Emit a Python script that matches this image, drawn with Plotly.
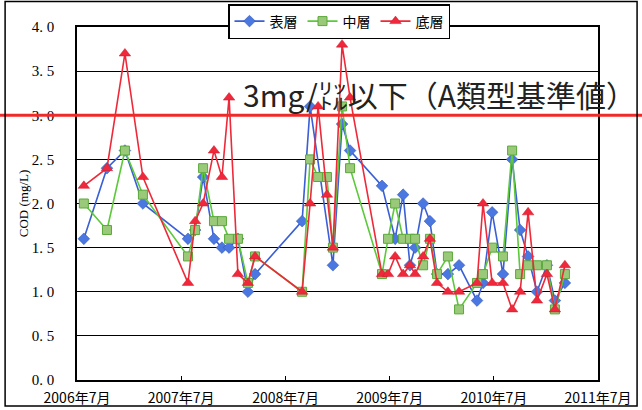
import plotly.graph_objects as go

dates = ["2006-07-25", "2006-10-14", "2006-12-16", "2007-02-17", "2007-07-25", "2007-08-19",
         "2007-09-16", "2007-10-24", "2007-11-21", "2007-12-16", "2008-01-16", "2008-02-20",
         "2008-03-16", "2008-08-28", "2008-09-25", "2008-10-23", "2008-11-23", "2008-12-14",
         "2009-01-15", "2009-02-12", "2009-06-04", "2009-06-25", "2009-07-20", "2009-08-17",
         "2009-09-10", "2009-09-28", "2009-10-26", "2009-11-19", "2009-12-14", "2010-01-21",
         "2010-03-01", "2010-05-03", "2010-05-24", "2010-06-25", "2010-08-02", "2010-09-03",
         "2010-10-01", "2010-10-29", "2010-11-29", "2011-01-03", "2011-01-31", "2011-03-07"]

surface = [1.6, 2.4, 2.6, 2.0, 1.6, 1.7, 2.3, 1.6, 1.5, 1.5, 1.6, 1.0,
           1.2, 1.8, 3.1, None, None, 1.3, 2.9, 2.6, 2.2, None, 1.6, 2.1,
           1.3, 1.5, 2.0, 1.8, 1.2, 1.2, 1.3, 0.9, 1.1, 1.9, 1.2, 2.5,
           1.7, 1.4, 1.0, 1.3, 0.9, 1.1]
middle = [2.0, 1.7, 2.6, 2.1, 1.4, 1.7, 2.4, 1.8, 1.8, 1.6, 1.6, 1.1,
          1.4, 1.0, 2.5, 2.3, 2.3, 1.5, 3.1, 2.4, 1.2, 1.6, 2.0, 1.6,
          1.6, 1.6, 1.3, 1.6, 1.2, 1.4, 0.8, 1.1, 1.2, 1.5, 1.4, 2.6,
          1.2, 1.3, 1.3, 1.3, 0.8, 1.2]
bottom = [2.2, 2.4, 3.7, 2.3, 1.1, 1.8, 2.0, 2.6, 2.3, 3.2, 1.2, 1.1,
          1.4, 1.0, 2.0, 3.1, 2.1, 1.5, 3.8, 3.2, 1.2, 1.2, 1.4, 1.2,
          1.3, 1.2, 1.4, 1.6, 1.1, 1.0, 1.0, 1.1, 2.0, 1.1, 1.1, 0.8,
          1.0, 1.9, 0.9, 1.2, 0.8, 1.3]

names = ["表層", "中層", "底層"]
y_ticks = [0, 0.5, 1.0, 1.5, 2.0, 2.5, 3.0, 3.5, 4.0]
y_labels = ["0. 0", "0. 5", "1. 0", "1. 5", "2. 0", "2. 5", "3. 0", "3. 5", "4. 0"]
x_ticks = ["2006-07-01", "2007-07-01", "2008-07-01", "2009-07-01", "2010-07-01", "2011-07-01"]
x_labels = ["2006年7月", "2007年7月", "2008年7月", "2009年7月", "2010年7月", "2011年7月"]
standard = 3.0
standard_text = "3mg/㍑以下（A類型基準値）"

fig = go.Figure()
fig.add_trace(go.Scatter(x=dates, y=surface, name=names[0], mode="lines+markers",
                         connectgaps=True,
                         line=dict(color="#3a5fd6", width=1.6),
                         marker=dict(symbol="diamond", size=9, color="#4a78e0",
                                     line=dict(color="#2a4cb0", width=0.5))))
fig.add_trace(go.Scatter(x=dates, y=middle, name=names[1], mode="lines+markers",
                         connectgaps=True,
                         line=dict(color="#5cc83a", width=1.6),
                         marker=dict(symbol="square", size=9, color="#9bc97a",
                                     line=dict(color="#5aa83a", width=1))))
fig.add_trace(go.Scatter(x=dates, y=bottom, name=names[2], mode="lines+markers",
                         connectgaps=True,
                         line=dict(color="#ee2a3a", width=1.6),
                         marker=dict(symbol="triangle-up", size=10, color="#f0283c",
                                     line=dict(color="#d01828", width=0.5))))

# standard line across the full width
fig.add_shape(type="line", xref="paper", yref="y", x0=-0.16, x1=1.1, y0=standard, y1=standard,
              line=dict(color="#ee2a2a", width=3), layer="above")
# outer frame
fig.add_shape(type="rect", xref="paper", yref="paper", x0=-0.138, x1=1.075, y0=-0.074, y1=1.072,
              line=dict(color="black", width=1.5))

fig.add_annotation(text=standard_text, xref="paper", yref="paper",
                   x=(241 - 77) / 521, y=(380 - 94) / 353, xanchor="left", yanchor="middle",
                   showarrow=False,
                   font=dict(family="Noto Sans CJK JP", size=30, color="#222222"))

fig.update_layout(
    width=642, height=410,
    margin=dict(l=77, r=44, t=27, b=30, autoexpand=False),
    paper_bgcolor="white", plot_bgcolor="white",
    showlegend=True,
    legend=dict(orientation="h", x=(228 - 77) / 521, y=(380 - 4) / 353,
                xanchor="left", yanchor="top",
                bordercolor="black", borderwidth=1.5, bgcolor="white",
                font=dict(family="Noto Sans CJK JP", size=14, color="black"),
                itemwidth=30, tracegroupgap=0),
)
fig.update_xaxes(type="date", range=["2006-07-01", "2011-07-01"],
                 tickvals=x_ticks, ticktext=x_labels,
                 showgrid=False, showline=True, linecolor="black", linewidth=1.5, mirror=True,
                 ticks="inside", ticklen=4, tickcolor="black", ticklabelstandoff=4,
                 tickfont=dict(family="Noto Sans CJK JP", size=14, color="black"))
fig.update_yaxes(range=[0, 4], tickvals=y_ticks, ticktext=y_labels,
                 showgrid=True, gridcolor="black", gridwidth=1.2,
                 showline=True, linecolor="black", linewidth=1.5, mirror=True,
                 zeroline=False, ticklabelstandoff=18,
                 tickfont=dict(family="Liberation Serif", size=15, color="black"),
                 title=dict(text="COD (mg/L)", standoff=0,
                            font=dict(family="Liberation Serif", size=13, color="black")))

fig.write_html("out.html", config={"displayModeBar": False},
               post_script="document.body.style.margin='0';document.body.style.padding='0';")
